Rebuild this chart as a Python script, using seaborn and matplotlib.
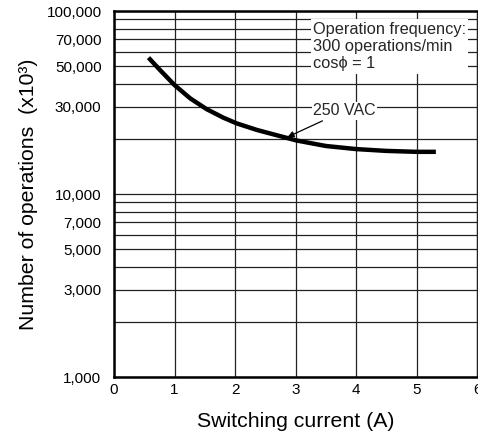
import matplotlib
matplotlib.use("Agg")
import matplotlib.pyplot as plt
import seaborn as sns
import pandas as pd
from matplotlib.ticker import FixedLocator, NullFormatter

# Data
current_a = [0.57, 0.76, 1.0, 1.26, 1.53, 1.81, 2.03, 2.36, 2.63, 3.02, 3.5, 4.0, 4.5, 5.0, 5.32]
operations = [55600, 47600, 39400, 33300, 29100, 26100, 24300, 22400, 21200, 19600,
              18300, 17600, 17200, 17000, 17000]

x_ticks = [0, 1, 2, 3, 4, 5, 6]
y_major = [1000, 3000, 5000, 7000, 10000, 30000, 50000, 70000, 100000]
y_major_labels = ["1,000", "3,000", "5,000", "7,000", "10,000", "30,000", "50,000", "70,000", "100,000"]
y_minor = [2000, 4000, 6000, 8000, 9000, 20000, 40000, 60000, 80000, 90000]

sns.set_theme(style="white")
plt.rcParams["font.family"] = ["Liberation Sans", "DejaVu Sans"]

fig = plt.figure(figsize=(4.78, 4.36), dpi=100)
ax = fig.add_axes([114 / 478, 1 - 377 / 436, (477 - 114) / 478, (377 - 11) / 436])

df = pd.DataFrame({"current": current_a, "ops": operations})
sns.lineplot(data=df, x="current", y="ops", ax=ax, color="black", lw=3.2,
             solid_capstyle="butt", solid_joinstyle="round", zorder=3)

ax.set_yscale("log")
ax.set_xlim(0, 6)
ax.set_ylim(1000, 100000)
ax.set_xticks(x_ticks)
ax.set_xticklabels([str(v) for v in x_ticks])
ax.yaxis.set_major_locator(FixedLocator(y_major))
ax.set_yticklabels(y_major_labels)
ax.yaxis.set_minor_locator(FixedLocator(y_minor))
ax.yaxis.set_minor_formatter(NullFormatter())

ax.grid(True, which="both", axis="both", color="#222222", lw=0.9)
ax.set_axisbelow(True)
ax.tick_params(axis="both", which="both", length=0, labelsize=11, colors="black")
ax.tick_params(axis="y", pad=9)
ax.tick_params(axis="x", pad=4)

for side in ["left", "bottom", "top"]:
    ax.spines[side].set_visible(True)
    ax.spines[side].set_color("black")
    ax.spines[side].set_linewidth(1.8)
ax.spines["right"].set_visible(True)
ax.spines["right"].set_color("#222222")
ax.spines["right"].set_linewidth(0.9)

ax.set_xlabel("Switching current (A)", fontsize=15.3, labelpad=11, color="black")
ax.set_ylabel("Number of operations  (x10³)", fontsize=15.3, labelpad=6, color="black")

ax.text(3.29, 87500, "Operation frequency:\n300 operations/min\ncosϕ = 1",
        fontsize=11.8, va="top", ha="left", linespacing=1.2, zorder=4,
        bbox=dict(facecolor="white", edgecolor="none", pad=1.5))

ax.annotate("250 VAC", xy=(2.87, 20500), xytext=(3.29, 28500),
            fontsize=11.5, va="center", ha="left", zorder=4,
            bbox=dict(facecolor="white", edgecolor="none", pad=1),
            arrowprops=dict(arrowstyle="-|>", color="black", lw=0.9,
                            mutation_scale=9, shrinkA=2, shrinkB=0))

fig.savefig("out.png", dpi=100)
